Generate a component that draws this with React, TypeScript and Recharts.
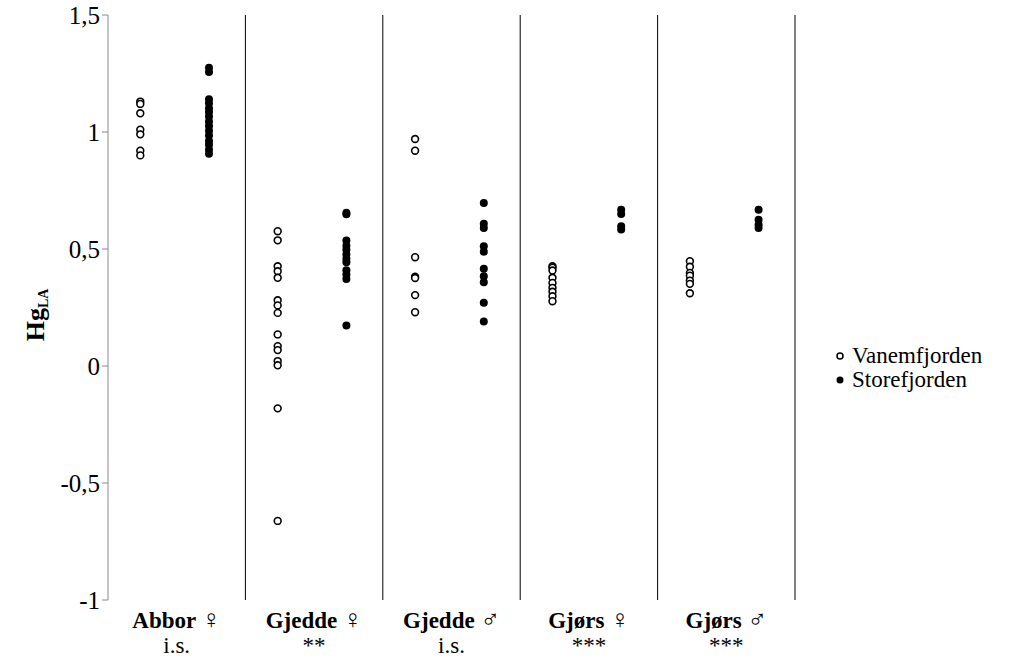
import { ScatterChart, Scatter, XAxis, YAxis, ReferenceLine, Legend, Label } from 'recharts'

// Hg (log-justert) per art/kjønn, Vanemfjorden (åpne) vs Storefjorden (fylte)
const CATS = ['Abbor', 'Gjedde', 'Gjedde', 'Gjørs', 'Gjørs']
const SEX  = ['♀', '♀', '♂', '♀', '♂']
const SIG  = ['i.s.', '**', 'i.s.', '***', '***']

const vAbborF  = [1.13, 1.12, 1.08, 1.01, 0.99, 0.92, 0.9]
const vGjeddeF = [0.576, 0.537, 0.426, 0.405, 0.377, 0.281, 0.259, 0.227, 0.135, 0.085, 0.068, 0.021, 0.003, -0.181, -0.662]
const vGjeddeM = [0.97, 0.92, 0.465, 0.382, 0.376, 0.303, 0.23]
const vGjorsF  = [0.426, 0.42, 0.408, 0.377, 0.355, 0.334, 0.317, 0.298, 0.277]
const vGjorsM  = [0.448, 0.424, 0.398, 0.386, 0.365, 0.351, 0.311]

const sAbborF  = [1.275, 1.256, 1.14, 1.123, 1.102, 1.085, 1.066, 1.045, 1.026, 1.005, 0.985, 0.962, 0.945, 0.924, 0.907]
const sGjeddeF = [0.655, 0.648, 0.536, 0.514, 0.497, 0.476, 0.458, 0.443, 0.409, 0.391, 0.372, 0.173]
const sGjeddeM = [0.697, 0.608, 0.59, 0.512, 0.488, 0.416, 0.384, 0.358, 0.27, 0.19]
const sGjorsF  = [0.668, 0.65, 0.597, 0.583]
const sGjorsM  = [0.668, 0.625, 0.604, 0.59]

const Y_TICKS = [-1, -0.5, 0, 0.5, 1, 1.5]

const VANEM = [vAbborF, vGjeddeF, vGjeddeM, vGjorsF, vGjorsM]
const STORE = [sAbborF, sGjeddeF, sGjeddeM, sGjorsF, sGjorsM]

const toPts = (groups: number[][], off: number) =>
  groups.flatMap((arr, i) => arr.map(y => ({ x: i * 2 + off, y })))

const vanemData = toPts(VANEM, 0.47)
const storeData = toPts(STORE, 1.47)

const FONT = '"Liberation Serif", "Times New Roman", serif'

const fmt = (v: number) => String(v).replace('.', ',')

function CatTick({ x, y, payload }: any) {
  const i = Math.round((payload.value - 1) / 2)
  return (
    <g fontFamily={FONT} fill="#000">
      <text x={x} y={y + 20} textAnchor="middle" fontSize={23}>
        <tspan fontWeight="bold">{CATS[i] + ' '}</tspan>
        <tspan fontSize={26} fontFamily='"DejaVu Sans", sans-serif' fontWeight={200}>{SEX[i]}</tspan>
      </text>
      <text x={x} y={y + 45} textAnchor="middle" fontSize={23}>{SIG[i]}</text>
    </g>
  )
}

const OpenDot = (p: any) => <circle cx={p.cx} cy={p.cy} r={3.4} fill="#fff" stroke="#000" strokeWidth={1.6} />
const FullDot = (p: any) => <circle cx={p.cx} cy={p.cy} r={4} fill="#000" />

function LegendBox() {
  const row = (filled: boolean, label: string) => (
    <div style={{ display: 'flex', alignItems: 'center', height: 24 }}>
      <svg width={12} height={12} style={{ marginRight: 6 }}>
        {filled
          ? <circle cx={6} cy={6} r={3.5} fill="#000" />
          : <circle cx={6} cy={6} r={3} fill="#fff" stroke="#000" strokeWidth={1.5} />}
      </svg>
      <span>{label}</span>
    </div>
  )
  return (
    <div style={{ fontFamily: FONT, fontSize: 23, color: '#000', lineHeight: '24px' }}>
      {row(false, 'Vanemfjorden')}
      {row(true, 'Storefjorden')}
    </div>
  )
}

export default function App() {
  return (
    <div style={{ position: 'absolute', left: 0, top: 0, background: '#fff' }}>
      <ScatterChart width={1010} height={662} margin={{ top: 15, right: 215, left: 48, bottom: 0 }}>
        <XAxis type="number" dataKey="x" domain={[0, 10]} ticks={[1, 3, 5, 7, 9]} interval={0}
          axisLine={false} tickLine={false} height={62} tick={<CatTick />} />
        <YAxis type="number" dataKey="y" domain={[-1, 1.5]} ticks={Y_TICKS} interval={0} width={60}
          tickFormatter={fmt} tickSize={6} stroke="#888"
          tick={{ fontFamily: FONT, fontSize: 25, fill: '#000' }}>
          <Label content={() => (
            <text x={44} y={315} transform="rotate(-90 44 315)" textAnchor="middle"
              fontFamily={FONT} fontSize={26} fontWeight="bold" fill="#000">
              Hg<tspan fontSize={14} dy={4}>LA</tspan>
            </text>
          )} />
        </YAxis>
        {[2, 4, 6, 8, 10].map(v => <ReferenceLine key={v} x={v} stroke="#000" strokeWidth={1} />)}
        <Scatter name="Vanemfjorden" data={vanemData} shape={OpenDot} isAnimationActive={false} />
        <Scatter name="Storefjorden" data={storeData} shape={FullDot} isAnimationActive={false} />
        <Legend layout="vertical" verticalAlign="middle" align="center"
          wrapperStyle={{ left: 834, top: 344, width: 176 }} content={() => <LegendBox />} />
      </ScatterChart>
    </div>
  )
}
